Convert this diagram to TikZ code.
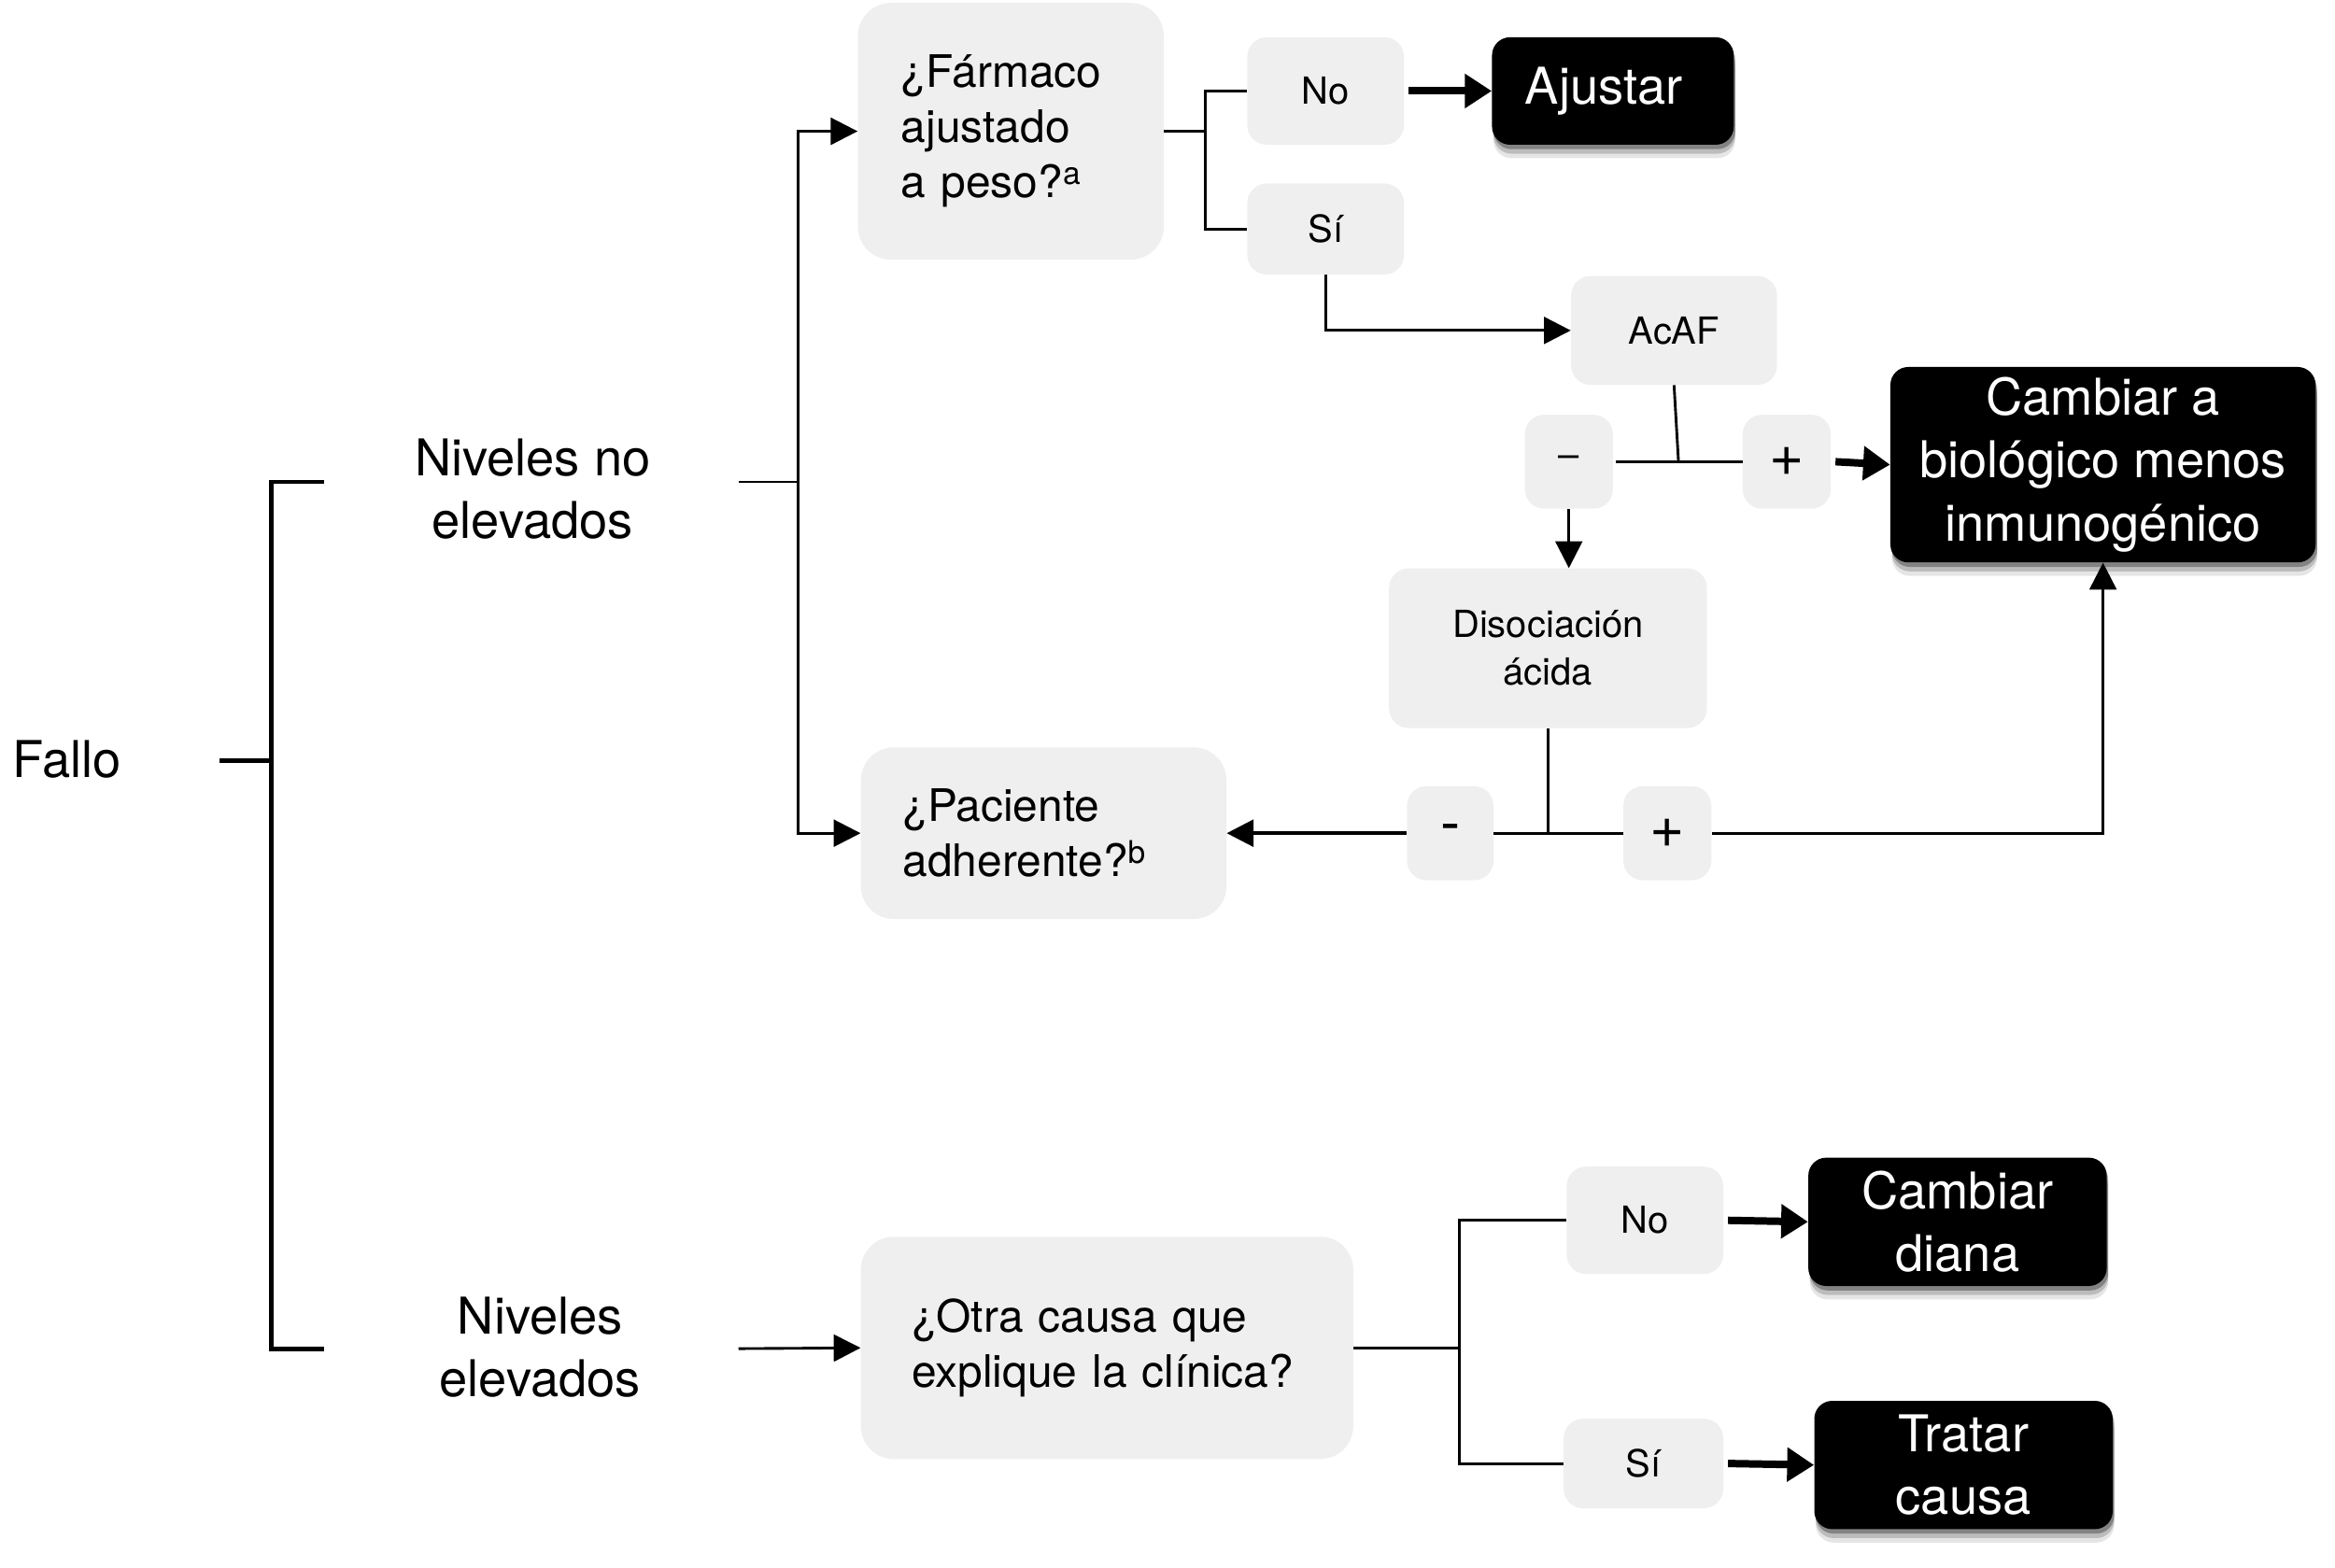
\documentclass[tikz,border=0pt]{standalone}
\usepackage{fontspec}
\setmainfont{TeX Gyre Heros}
\usetikzlibrary{arrows.meta,shadows}
\definecolor{boxgray}{HTML}{EFEFEF}
\begin{document}
\begin{tikzpicture}[x=1pt,y=-1pt,
  gbox/.style={fill=boxgray, rounded corners=13pt, inner sep=0pt, align=center,
    font=\fontsize{25}{32}\selectfont},
  sgn/.style={gbox, font=\fontsize{40}{40}\selectfont},
  qbox/.style={fill=boxgray, rounded corners=22pt, inner ysep=0pt, align=left,
    font=\fontsize{30}{37}\selectfont},
  bbox/.style={fill=black, text=white, rounded corners=12pt, inner sep=0pt, align=center,
    font=\fontsize{34}{42}\selectfont,
    drop shadow={shadow xshift=1pt, shadow yshift=-9pt, opacity=0.10, fill=black},
    drop shadow={shadow xshift=1pt, shadow yshift=-6pt, opacity=0.18, fill=black},
    drop shadow={shadow xshift=1pt, shadow yshift=-3pt, opacity=0.30, fill=black}},
  lbl/.style={inner sep=0pt, align=center, font=\fontsize{34}{42}\selectfont},
  ln/.style={line width=1.8pt},
  brk/.style={line width=3pt},
  arr/.style={ln, -{Triangle[length=18pt,width=18pt]}},
  tarr/.style={line width=5pt, -{Triangle[length=18pt,width=22pt]}},
]
\useasboundingbox (0,0) rectangle (1565,1051);

% labels
\node[lbl] (fallo) at (45,509) {Fallo};
\node[lbl] (nne) at (357,328) {Niveles no\\elevados};
\node[lbl] (ne) at (362,903) {Niveles\\elevados};

% grey question boxes
\node[qbox, minimum width=205pt, minimum height=172pt, text width=147pt, inner xsep=29pt] (farm) at (677.5,88)
  {¿Fármaco\\ajustado\\a peso?\textsuperscript{a}};
\node[qbox, minimum width=245pt, minimum height=115pt, text width=189pt, inner xsep=28pt] (pac) at (699.5,558.5)
  {¿Paciente\\adherente?\textsuperscript{b}};
\node[qbox, minimum width=330pt, minimum height=149pt, text width=262pt, inner xsep=34pt] (otra) at (742,903.5)
  {¿Otra causa que\\explique la clínica?};

% small grey boxes
\node[gbox, minimum width=105pt, minimum height=72pt] (no1) at (888.5,61) {No};
\node[gbox, minimum width=105pt, minimum height=61pt] (si1) at (888.5,153.5) {Sí};
\node[gbox, minimum width=138pt, minimum height=73pt] (acaf) at (1122,221.5) {AcAF};
\node[gbox, minimum width=59pt, minimum height=63pt] (m1) at (1051.5,309.5) {\raisebox{-5pt}{–}};
\node[sgn, minimum width=59pt, minimum height=63pt] (p1) at (1197.5,309.5) {+};
\node[gbox, minimum width=213pt, minimum height=107pt] (dis) at (1037.5,434.5) {Disociación\\ácida};
\node[sgn, minimum width=58pt, minimum height=63pt] (m2) at (972,558.5) {\raisebox{-9pt}{-}};
\node[sgn, minimum width=59pt, minimum height=63pt] (p2) at (1117.5,558.5) {\raisebox{-4pt}{+}};
\node[gbox, minimum width=105pt, minimum height=72pt] (no2) at (1102.5,818) {No};
\node[gbox, minimum width=107pt, minimum height=60pt] (si2) at (1101.5,981) {Sí};

% black result boxes
\node[bbox, minimum width=162pt, minimum height=72pt] (ajus) at (1081,61) {Ajustar\hspace*{12pt}};
\node[bbox, minimum width=285pt, minimum height=131pt] (camb) at (1409.5,311.5) {Cambiar a\\biológico menos\\inmunogénico};
\node[bbox, minimum width=200pt, minimum height=86pt] (cdia) at (1312,819) {Cambiar\\diana};
\node[bbox, minimum width=200pt, minimum height=86pt] (trat) at (1316,982) {Tratar\\causa};

% coordinates
\coordinate (fs) at (147,510);
\coordinate (b0) at (182,510);
\coordinate (bt) at (217,323);
\coordinate (bb) at (217,904);
\coordinate (j1) at (495,323);
\coordinate (v1) at (535,323);
\coordinate (j2) at (495,904);
\coordinate (v2) at (808,88);
\coordinate (v3) at (1125,310);
\coordinate (v4) at (978,903.5);

% bracket
\draw[brk] (fs) -- (b0);
\draw[brk] (bt) -| (b0) |- (bb);

% upper branch
\draw[ln] (j1) -- (v1);
\draw[arr] (v1) |- (farm.west);
\draw[arr] (v1) |- (pac.west);
\draw[arr] (j2) -- (otra.west);

\draw[ln] (farm.east) -- (v2);
\draw[ln] (no1.west) -| (v2) |- (si1.west);
\draw[tarr] ([xshift=3pt]no1.east) -- (ajus.west);
\draw[arr] (si1.south) |- (acaf.west);

\draw[ln] (acaf.south) -- (v3);
\draw[ln] ([xshift=2pt]m1.east) -- (p1.west);
\draw[tarr] ([xshift=3pt]p1.east) -- (camb.west);
\draw[arr] (m1.south) -- (m1.south |- dis.north);

\draw[ln] (dis.south) -- (dis.south |- m2.east);
\draw[ln] (m2.east) -- (p2.west);
\draw[arr, line width=2.2pt] (m2.west) -- (pac.east);
\draw[arr] (p2.east) -| (camb.south);

% lower branch
\draw[ln] (otra.east) -- (v4);
\draw[ln] (no2.west) -| (v4) |- (si2.west);
\draw[tarr] ([xshift=3pt]no2.east) -- (cdia.west);
\draw[tarr] ([xshift=3pt]si2.east) -- (trat.west);
\end{tikzpicture}
\end{document}
